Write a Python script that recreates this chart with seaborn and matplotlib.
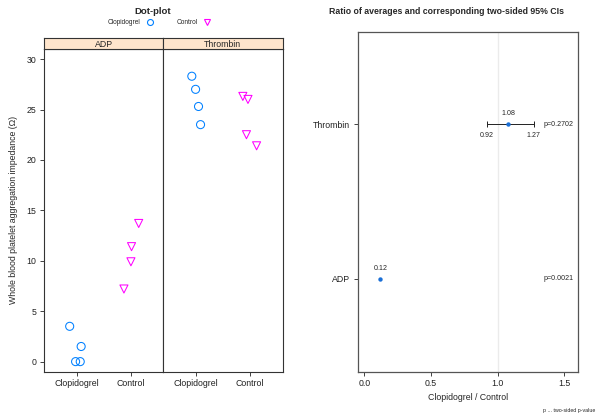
import numpy as np
import pandas as pd
import matplotlib
matplotlib.use("Agg")
import matplotlib.pyplot as plt
from matplotlib.lines import Line2D
import seaborn as sns

# ---------------- data ----------------
stimuli = ["ADP", "Thrombin"]
groups = ["Clopidogrel", "Control"]
adp_clopidogrel = [3.5, 1.5, 0.0, 0.0]
adp_control = [13.7, 11.4, 9.9, 7.2]
thrombin_clopidogrel = [28.3, 27.0, 25.3, 23.5]
thrombin_control = [26.0, 26.3, 22.5, 21.4]
y_ticks = [0, 5, 10, 15, 20, 25, 30]

ratio_labels = ["ADP", "Thrombin"]
ratio_est = [0.12, 1.08]
ratio_lower = [np.nan, 0.92]
ratio_upper = [np.nan, 1.27]
p_values = ["p=0.0021", "p=0.2702"]
ratio_ticks = [0.0, 0.5, 1.0, 1.5]

# ---------------- style ----------------
sns.set_style("ticks")
plt.rcParams["font.family"] = ["Liberation Sans", "DejaVu Sans"]
FS = 6.3
col_clop = "#0080ff"
col_ctrl = "#ff00ff"

rows = []
for stim, clop, ctrl in [("ADP", adp_clopidogrel, adp_control),
                         ("Thrombin", thrombin_clopidogrel, thrombin_control)]:
    rows += [dict(stimulus=stim, group="Clopidogrel", value=v) for v in clop]
    rows += [dict(stimulus=stim, group="Control", value=v) for v in ctrl]
df = pd.DataFrame(rows)

fig = plt.figure(figsize=(6.0, 4.16), dpi=100)
W, H = 600.0, 416.0

def fx(px):
    return px / W

def fy(py):
    return 1 - py / H

panel_top, panel_bot = 49.0, 371.7
lefts = [44.0, 163.0]
width = 119.5
np.random.seed(7)

axes = []
for i, stim in enumerate(stimuli):
    ax = fig.add_axes([fx(lefts[i]), fy(panel_bot), width / W, (panel_bot - panel_top) / H])
    sub = df[df.stimulus == stim]
    for grp, col, mk, sz in [("Clopidogrel", col_clop, "o", 5.8), ("Control", col_ctrl, "v", 5.8)]:
        n_before = len(ax.collections)
        sns.stripplot(data=sub[sub.group == grp], x="group", y="value", order=groups,
                      color=col, marker=mk, size=sz, jitter=0.15, ax=ax, linewidth=0.8)
        for coll in ax.collections[n_before:]:
            coll.set_facecolor("none")
            coll.set_edgecolor(col)
            coll.set_linewidth(0.75)
    ax.set_xlim(-0.6, 1.6)
    ax.set_ylim(-1, 31)
    ax.set_yticks(y_ticks)
    ax.set_xlabel("")
    ax.set_ylabel("")
    ax.tick_params(axis="both", direction="out", length=3, width=0.6, labelsize=FS,
                   colors="#222222", pad=2.5)
    if i == 1:
        ax.tick_params(axis="y", left=False, labelleft=False)
    for s in ax.spines.values():
        s.set_visible(True)
        s.set_color("#333333")
        s.set_linewidth(0.8)
    axes.append(ax)
    # strip
    sax = fig.add_axes([fx(lefts[i]), fy(panel_top), width / W, 11.0 / H])
    sax.set_facecolor("#ffe5cc")
    sax.set_xticks([])
    sax.set_yticks([])
    for s in sax.spines.values():
        s.set_visible(True)
        s.set_color("#333333")
        s.set_linewidth(0.8)
    sax.text(0.5, 0.45, stim, ha="center", va="center", fontsize=FS, transform=sax.transAxes)

axes[0].set_ylabel("Whole blood platelet aggregation impedance (\u03a9)", fontsize=FS)
axes[0].yaxis.set_label_coords(-0.22, 0.5)

fig.text(fx(153), fy(12), "Dot-plot", ha="center", va="center", fontsize=6.8, fontweight="bold")
handles = [Line2D([], [], linestyle="none", marker="o", markersize=4.3, markerfacecolor="none",
                  markeredgecolor=col_clop, markeredgewidth=0.8),
           Line2D([], [], linestyle="none", marker="v", markersize=4.8, markerfacecolor="none",
                  markeredgecolor=col_ctrl, markeredgewidth=0.8)]
fig.legend(handles, groups, loc="center", bbox_to_anchor=(fx(159), fy(22.7)), ncol=2,
           markerfirst=False, frameon=False, fontsize=4.7, columnspacing=3.6,
           handletextpad=1.0, handlelength=1.0, borderpad=0)

# ---------------- right panel ----------------
rdf = pd.DataFrame(dict(stimulus=ratio_labels, ratio=ratio_est, lower=ratio_lower,
                        upper=ratio_upper, p=p_values))
rdf["ypos"] = np.arange(len(rdf)) + 1

r_left, r_right, r_top = 357.7, 577.7, 31.7
rax = fig.add_axes([fx(r_left), fy(panel_bot), (r_right - r_left) / W, (panel_bot - r_top) / H])
rax.axvline(1.0, color="#ebebeb", lw=1.0, zorder=0)
err = rdf.dropna(subset=["lower", "upper"])
rax.errorbar(err["ratio"], err["ypos"],
             xerr=[err["ratio"] - err["lower"], err["upper"] - err["ratio"]],
             fmt="none", ecolor="#222222", elinewidth=0.7, capsize=2.5, capthick=0.7, zorder=2)
sns.scatterplot(data=rdf, x="ratio", y="ypos", color="#1a6fd6", s=10, linewidth=0,
                ax=rax, zorder=3, legend=False)
for _, r in rdf.iterrows():
    rax.annotate(f"{r['ratio']:.2f}", (r["ratio"], r["ypos"]), xytext=(0, 7.7),
                 textcoords="offset points", ha="center", va="center", fontsize=5.1)
    if not np.isnan(r["lower"]):
        rax.annotate(f"{r['lower']:.2f}", (r["lower"], r["ypos"]), xytext=(0, -7.9),
                     textcoords="offset points", ha="center", va="center", fontsize=5.1)
        rax.annotate(f"{r['upper']:.2f}", (r["upper"], r["ypos"]), xytext=(0, -7.9),
                     textcoords="offset points", ha="center", va="center", fontsize=5.1)
    rax.text(0.983, r["ypos"], r["p"], ha="right", va="center", fontsize=5.1,
             transform=rax.get_yaxis_transform())

rax.set_xlim(-0.05, 1.6)
rax.set_ylim(0.4, 2.6)
rax.set_xticks(ratio_ticks)
rax.set_xticklabels([f"{t:.1f}" for t in ratio_ticks])
rax.set_yticks(rdf["ypos"])
rax.set_yticklabels(rdf["stimulus"])
rax.set_ylabel("")
rax.set_xlabel("Clopidogrel / Control", fontsize=FS)
rax.xaxis.set_label_coords(0.5, -0.062)
rax.tick_params(axis="both", direction="out", length=3, width=0.6, labelsize=FS,
                colors="#222222", pad=2.5)
for s in rax.spines.values():
    s.set_visible(True)
    s.set_color("#555555")
    s.set_linewidth(0.9)

fig.text(fx(446.7), fy(12), "Ratio of averages and corresponding two-sided 95% CIs",
         ha="center", va="center", fontsize=6.3, fontweight="bold")
fig.text(fx(595), fy(410.7), "p ... two-sided p-value", ha="right", va="center", fontsize=3.8)

fig.savefig("out.png", dpi=100, facecolor="white")
